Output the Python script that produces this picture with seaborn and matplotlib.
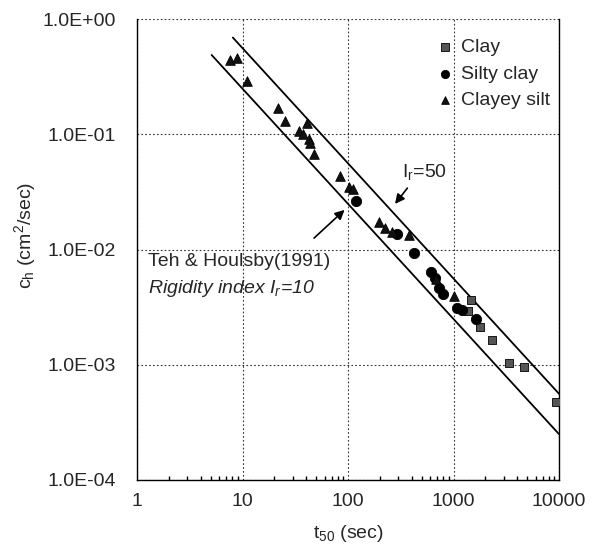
import numpy as np
import pandas as pd
import matplotlib
matplotlib.use("Agg")
import matplotlib.pyplot as plt
import seaborn as sns

# ---- data ----
clay_t = [1456, 1371, 1783, 2302, 3357, 4690, 9370]
clay_c = [0.00362, 0.00293, 0.00213, 0.00164, 0.00103, 0.00096, 0.000472]

silty_t = [118, 294, 424, 612, 661, 721, 800, 1091, 1197, 1618]
silty_c = [0.0264, 0.0135, 0.00927, 0.00642, 0.00562, 0.0046, 0.00415, 0.00309, 0.00299, 0.00247]

silt_t = [7.6, 8.8, 11.1, 21.9, 25.3, 41.1, 34.5, 37.2, 43.0, 43.6, 47.6, 84, 103, 112,
          198, 224, 260, 381, 690, 1004]
silt_c = [0.44, 0.456, 0.292, 0.168, 0.130, 0.126, 0.107, 0.1005, 0.0904, 0.0834, 0.067,
          0.0437, 0.0351, 0.0335, 0.0174, 0.0153, 0.0142, 0.0133, 0.0055, 0.00393]

# Teh & Houlsby (1991) reference lines (endpoints)
ir10_t = [5.1, 10000]
ir10_c = [0.487, 2.5e-4]
ir50_t = [8.1, 10000]
ir50_c = [0.69, 5.6e-4]

x_ticks = [1, 10, 100, 1000, 10000]
x_labels = ["1", "10", "100", "1000", "10000"]
y_ticks = [1e-4, 1e-3, 1e-2, 1e-1, 1e0]
y_labels = ["1.0E-04", "1.0E-03", "1.0E-02", "1.0E-01", "1.0E+00"]

df = pd.DataFrame({
    "t50": clay_t + silty_t + silt_t,
    "ch": clay_c + silty_c + silt_c,
    "soil": ["Clay"] * len(clay_t) + ["Silty clay"] * len(silty_t) + ["Clayey silt"] * len(silt_t),
})

sns.set_theme(style="white")
plt.rcParams["font.family"] = ["Liberation Sans", "DejaVu Sans"]
plt.rcParams["mathtext.default"] = "regular"
FS = 14

fig = plt.figure(figsize=(5.95, 5.58), dpi=100)
ax = fig.add_axes([137 / 595, 1 - 480 / 558, (559 - 137) / 595, (480 - 19) / 558])

ax.plot(ir10_t, ir10_c, color="black", lw=1.3, zorder=2)
ax.plot(ir50_t, ir50_c, color="black", lw=1.3, zorder=2)

order = ["Clay", "Silty clay", "Clayey silt"]
markers = {"Clay": "s", "Silty clay": "o", "Clayey silt": "^"}
palette = {"Clay": "#555555", "Silty clay": "black", "Clayey silt": "#111111"}
sizes = {"Clay": 40, "Silty clay": 55, "Clayey silt": 48}
for s in order:
    sub = df[df.soil == s]
    sns.scatterplot(data=sub, x="t50", y="ch", marker=markers[s], color=palette[s],
                    s=sizes[s], edgecolor="black", linewidth=0.6, ax=ax, label=s, zorder=3)

ax.set_xscale("log")
ax.set_yscale("log")
ax.set_xlim(1, 10000)
ax.set_ylim(1e-4, 1)
ax.set_xticks(x_ticks)
ax.set_xticklabels(x_labels, fontsize=FS)
ax.set_yticks(y_ticks)
ax.set_yticklabels(y_labels, fontsize=FS)
ax.tick_params(axis="x", which="major", direction="in", length=4, color="black", pad=9)
ax.tick_params(axis="y", which="major", direction="in", length=4, color="black", pad=15)
ax.tick_params(axis="x", which="minor", direction="in", length=3, color="black", bottom=True)
ax.tick_params(axis="y", which="minor", left=False)
ax.grid(True, which="major", linestyle=(0, (1.5, 2)), color="#333333", lw=0.8)
for sp in ax.spines.values():
    sp.set_color("black")
    sp.set_linewidth(1.0)
ax.spines["top"].set_visible(False)

ax.set_xlabel("t$_{50}$ (sec)", fontsize=FS, labelpad=10)
ax.set_ylabel("c$_h$ (cm$^2$/sec)", fontsize=FS, labelpad=10)
ax.yaxis.set_label_coords(-0.235, 0.53)

ax.text(325, 0.047, "I$_r$=50", fontsize=FS, ha="left", va="center")
ax.annotate("", xy=(269, 0.0238), xytext=(379, 0.0356),
            arrowprops=dict(arrowstyle="-|>", color="black", lw=1.2, mutation_scale=14))
ax.annotate("", xy=(97, 0.0229), xytext=(45.6, 0.0121),
            arrowprops=dict(arrowstyle="-|>", color="black", lw=1.2, mutation_scale=14))
ax.text(1.27, 0.0078, "Teh & Houlsby(1991)", fontsize=FS, ha="left", va="center")
ax.text(1.27, 0.00463, "Rigidity index I$_r$=10", fontsize=FS, ha="left", va="center",
        style="italic")

leg = ax.legend(loc="upper right", frameon=False, fontsize=FS, handletextpad=0.3,
                handlelength=1.0, borderaxespad=0.5, labelspacing=0.45, markerscale=0.8,
                bbox_to_anchor=(1.02, 0.995))

fig.savefig("out.png", dpi=100)
